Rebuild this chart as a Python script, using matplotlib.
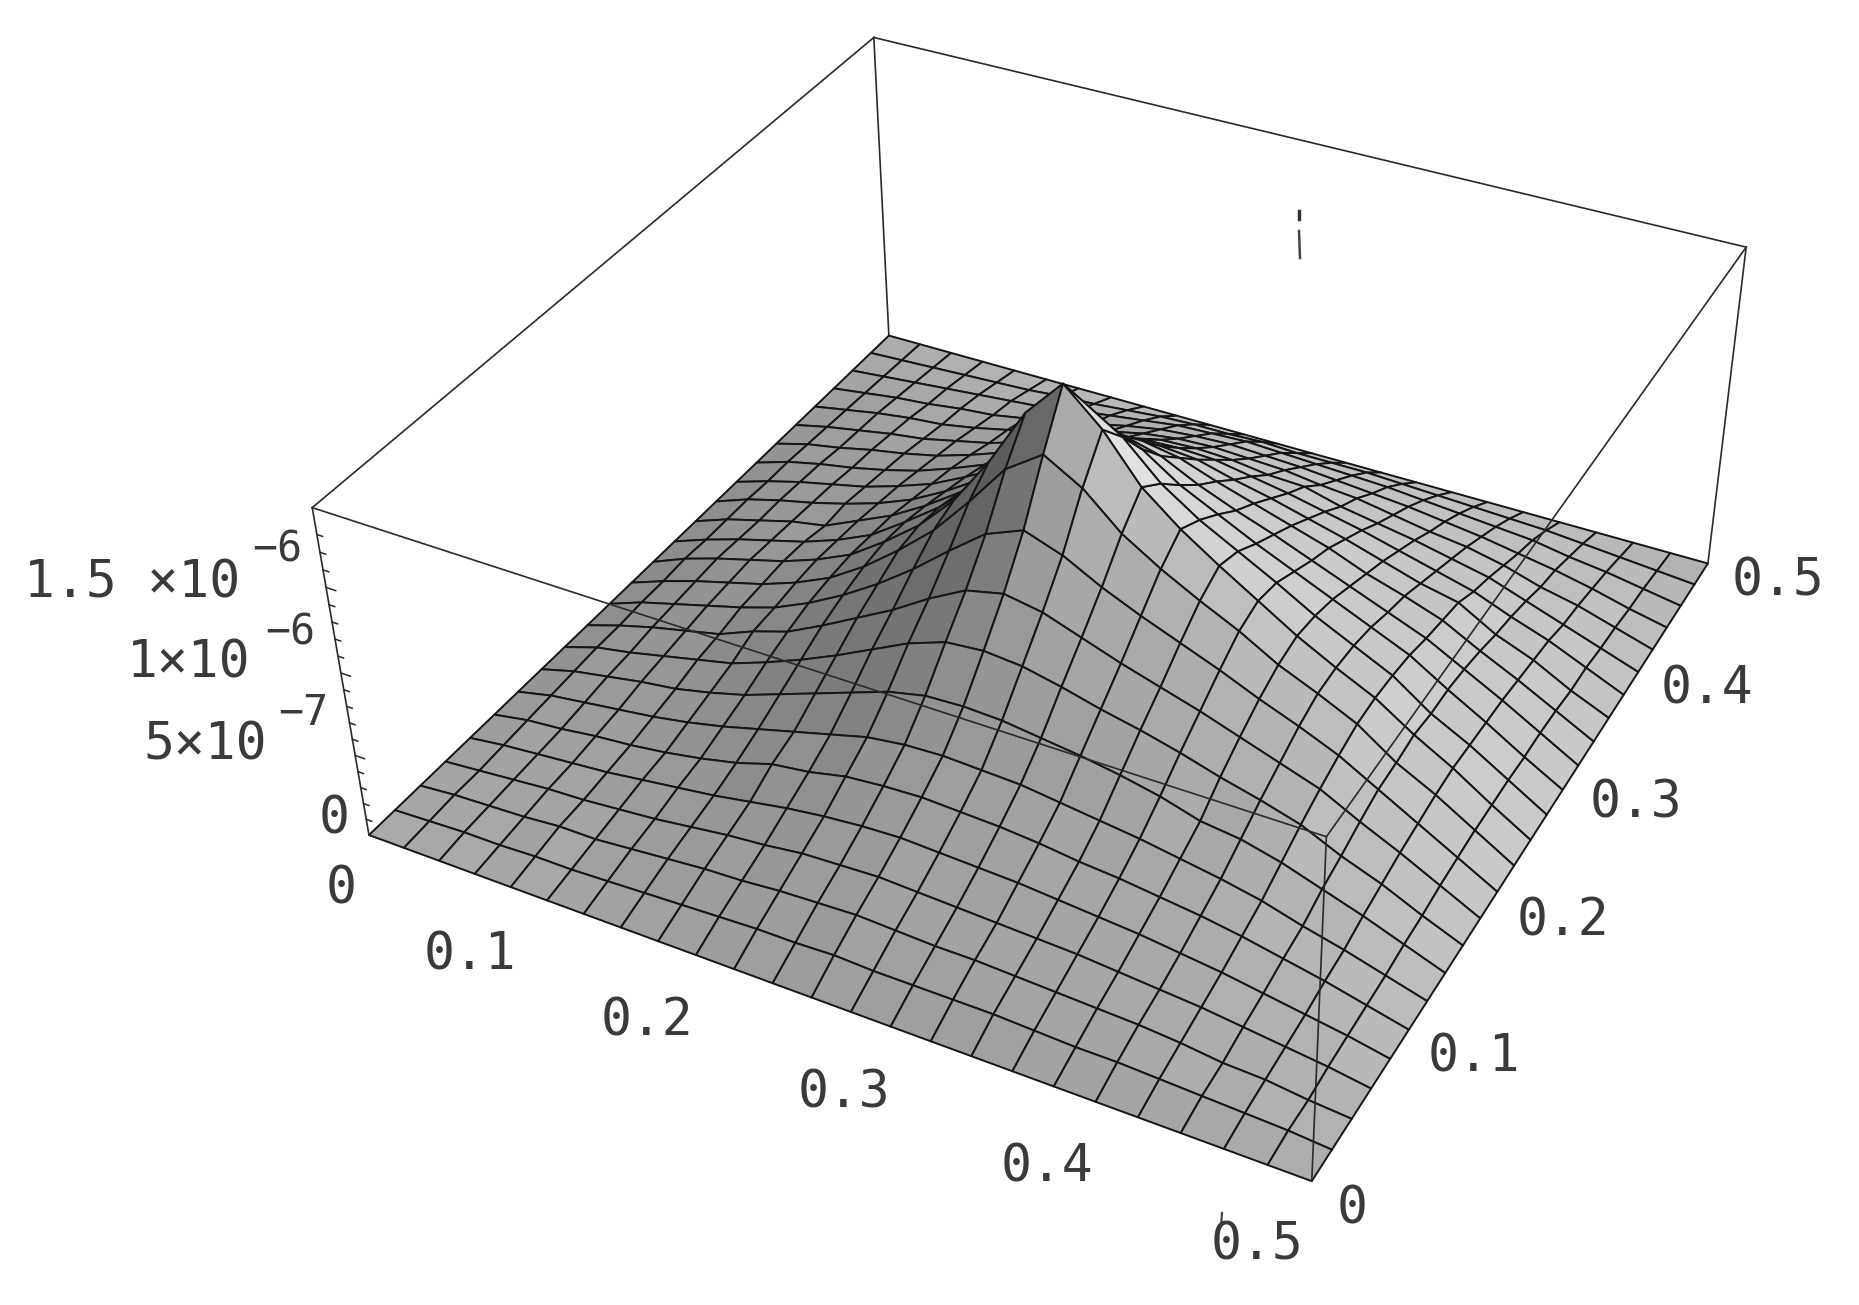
#!/usr/bin/env python3
"""Mathematica style 3D surface, box fitted to the scanned picture."""
import numpy as np
import matplotlib
matplotlib.use("Agg")
import matplotlib.pyplot as plt
from matplotlib.lines import Line2D

W, H = 1859, 1305
Z_TOP = 1.95  # in units of 1e-6

# surface heights in units of 1e-8, rows go along y, columns along x
surface_z = [
    [0,0,0,0,0,0,0,0,0,0,0,0,0,0,0,0,0,0,0,0,0,0,0,0,0],
    [0,1,2,2,3,3,4,5,6,7,8,8,9,8,8,8,8,7,6,6,5,4,3,2,0],
    [0,2,3,4,6,6,8,10,12,13,15,16,17,16,15,15,14,13,12,11,9,6,5,2,0],
    [0,2,4,6,7,9,11,14,17,19,22,23,24,23,22,21,20,19,17,15,13,10,7,4,0],
    [0,3,5,7,9,12,15,18,22,26,29,31,32,31,30,29,27,25,23,20,17,13,9,5,0],
    [0,4,6,9,11,14,18,23,30,33,38,40,41,40,39,37,34,32,29,26,22,17,12,6,0],
    [0,5,8,11,14,18,23,29,35,41,47,50,51,50,49,46,43,40,36,32,27,20,14,7,0],
    [0,6,10,14,17,22,28,36,44,52,60,65,66,65,62,59,55,50,43,40,34,26,18,9,0],
    [0,7,11,16,21,26,34,43,53,64,75,83,85,83,78,72,67,61,54,48,41,30,21,10,0],
    [0,7,13,18,23,32,39,50,62,74,88,100,105,101,93,85,78,71,63,55,47,35,24,12,0],
    [0,8,14,20,26,33,43,55,69,85,103,120,129,121,109,99,90,81,71,62,52,39,26,13,0],
    [0,8,15,21,27,35,45,59,76,95,119,145,160,147,127,113,101,90,77,67,56,40,28,14,0],
    [0,9,16,22,28,36,46,61,78,100,130,165,188,168,141,123,108,94,80,68,57,42,29,14,0],
    [0,8,15,21,27,35,45,60,76,96,121,148,165,151,130,115,103,91,78,67,56,40,28,14,0],
    [0,8,14,20,24,34,44,57,72,89,109,129,140,131,116,105,94,84,74,64,54,40,27,13,0],
    [0,8,14,19,25,32,41,53,67,81,98,113,120,114,103,94,86,77,68,59,50,38,26,13,0],
    [0,7,13,18,23,30,38,49,61,74,88,99,104,100,92,85,78,71,62,55,47,35,24,12,0],
    [0,7,12,16,21,27,35,44,55,65,77,85,88,86,80,75,69,63,56,49,44,31,22,10,0],
    [0,6,10,15,19,24,31,39,48,57,66,73,74,73,69,65,60,55,49,43,37,28,20,10,0],
    [0,5,9,13,16,21,26,33,41,48,55,60,61,60,57,56,50,46,42,37,32,24,16,8,0],
    [0,4,8,11,13,17,22,28,34,40,45,48,49,48,47,44,42,38,34,31,26,19,14,7,0],
    [0,3,6,8,11,13,17,22,26,31,35,37,38,37,36,34,32,30,27,24,20,16,11,5,0],
    [0,2,4,6,8,10,12,16,19,22,25,26,27,26,25,24,23,21,19,17,15,11,8,4,0],
    [0,1,2,3,4,5,7,8,10,12,13,13,14,13,13,13,12,11,10,9,8,6,4,2,0],
    [0,0,0,0,0,0,0,0,0,0,0,0,0,0,0,0,0,0,0,0,0,0,0,0,0],
]
z_major = [0.0, 0.5, 1.0, 1.5]
z_minor = [0.1, 0.2, 0.3, 0.4, 0.6, 0.7, 0.8, 0.9, 1.1, 1.2, 1.3, 1.4, 1.6, 1.7, 1.8]
front_labels = [("0", 341, 889), ("0.1", 470, 956), ("0.2", 647, 1022), ("0.3", 844, 1094), ("0.4", 1047, 1167), ("0.5", 1257, 1245)]
right_labels = [("0", 1352, 1209), ("0.1", 1474, 1058), ("0.2", 1563, 922), ("0.3", 1636, 804), ("0.4", 1707, 690), ("0.5", 1778, 581)]
height_labels = [("1.5 ×10", 240, 598, "−6", 252, 562), ("1×10", 250, 678, "−6", 265, 645), ("5×10", 267, 760, "−7", 278, 725)]


def fit_camera(ax, corners):
    # corners: (x, y, z, px, py), least squares projective fit
    rows = []
    to_view = ax.transData.inverted()
    for x, y, z, px, py in corners:
        u, v = to_view.transform((px, H - py)) * 10
        p = [x, y, z, 1.0]
        rows.append(p + [0, 0, 0, 0] + [-u * c for c in p])
        rows.append([0, 0, 0, 0] + p + [-v * c for c in p])
    P = np.linalg.svd(np.array(rows))[2][-1].reshape(3, 4)
    if P[2, 3] < 0:
        P = -P
    return np.array([P[0] / 10, P[1] / 10, [0, 0, 0, -1.0], P[2]])


def cell_gray(z):
    # Gray level per cell from the normal, lit from the +x and +y side
    step = 1.0 / (z.shape[0] - 1)
    zn = z / Z_TOP * 0.4
    zu = ((zn[:-1, 1:] - zn[:-1, :-1]) + (zn[1:, 1:] - zn[1:, :-1])) / (2 * step)
    zv = ((zn[1:, :-1] - zn[:-1, :-1]) + (zn[1:, 1:] - zn[:-1, 1:])) / (2 * step)
    norm = np.sqrt(zu**2 + zv**2 + 1)
    nx, ny = -zu / norm, -zv / norm
    g = 0.68 + np.where(nx > 0, 0.20, 0.34) * nx + 0.15 * ny
    return np.clip(g, 0.25, 0.97)


def label(px, py, s, size=37, **kw):
    kw.setdefault("ha", "center")
    kw.setdefault("va", "center")
    fig.text(px / W, 1 - py / H, s, family="DejaVu Sans Mono", fontsize=size, color="#3a3a3a", **kw)


fig = plt.figure(figsize=(W / 100, H / 100), dpi=100, facecolor="#fdfdfd")
ax = fig.add_axes([0, (H - W) / (2 * H), 1, W / H], projection="3d", computed_zorder=False)
ax.apply_aspect()
ax.set_axis_off()

M = fit_camera(ax, [
    (0, 0, 0, 372, 837), (0.5, 0, 0, 1312, 1183), (0.5, 0.5, 0, 1707, 563), (0, 0.5, 0, 887, 333),
    (0, 0, Z_TOP, 310, 507), (0.5, 0, Z_TOP, 1325, 833), (0.5, 0.5, Z_TOP, 1748, 249), (0, 0.5, Z_TOP, 875, 39),
])
ax.get_proj = lambda: M

z = np.array(surface_z) / 100.0
X, Y = np.meshgrid(np.linspace(0, 0.5, z.shape[1]), np.linspace(0, 0.5, z.shape[0]))

line_kw = dict(color="#2a2a2a", lw=1.2)

# edges behind the surface
for a, b in [((0, 0.5, 0), (0, 0.5, Z_TOP)), ((0.5, 0.5, 0), (0.5, 0.5, Z_TOP)),
             ((0, 0, Z_TOP), (0, 0.5, Z_TOP)), ((0, 0.5, Z_TOP), (0.5, 0.5, Z_TOP))]:
    ax.plot(*zip(a, b), zorder=1, **line_kw)

g = cell_gray(z)
ax.plot_surface(X, Y, z, rstride=1, cstride=1, facecolors=np.dstack([g, g, g, np.ones_like(g)]),
                shade=False, edgecolor="#151515", linewidth=1.4, zorder=2)

# edges drawn over the surface
for a, b in [((0, 0, 0), (0, 0, Z_TOP)), ((0, 0, Z_TOP), (0.5, 0, Z_TOP)),
             ((0.5, 0, Z_TOP), (0.5, 0.5, Z_TOP)), ((0.5, 0, 0), (0.5, 0, Z_TOP))]:
    ax.plot(*zip(a, b), zorder=3, **line_kw)

# ticks on the height axis
for tick in z_major:
    ax.plot([0, 0.0055], [0, 0], [tick, tick], zorder=3, color="#2a2a2a", lw=1.1)
for tick in z_minor:
    ax.plot([0, 0.0032], [0, 0], [tick, tick], zorder=3, color="#2a2a2a", lw=1.1)

for s, px, py in front_labels + right_labels:
    label(px, py, s)
for base, bx, by, sup, sx, sy in height_labels:
    label(bx, by, base, ha="right", va="baseline")
    label(sx, sy, sup, size=30, ha="left", va="baseline")
label(350, 833, "0", ha="right", va="baseline")

# scan marks
fig.add_artist(Line2D([1299 / W, 1299 / W], [1 - 211 / H, 1 - 219 / H], color="#333333", lw=2.5))
fig.add_artist(Line2D([1299 / W, 1300 / W], [1 - 231 / H, 1 - 258 / H], color="#444444", lw=1.8))
fig.add_artist(Line2D([1222 / W, 1221 / W], [1 - 1213 / H, 1 - 1226 / H], color="#444444", lw=1.6))

fig.savefig("out.png", dpi=100, facecolor=fig.get_facecolor())
plt.close(fig)
